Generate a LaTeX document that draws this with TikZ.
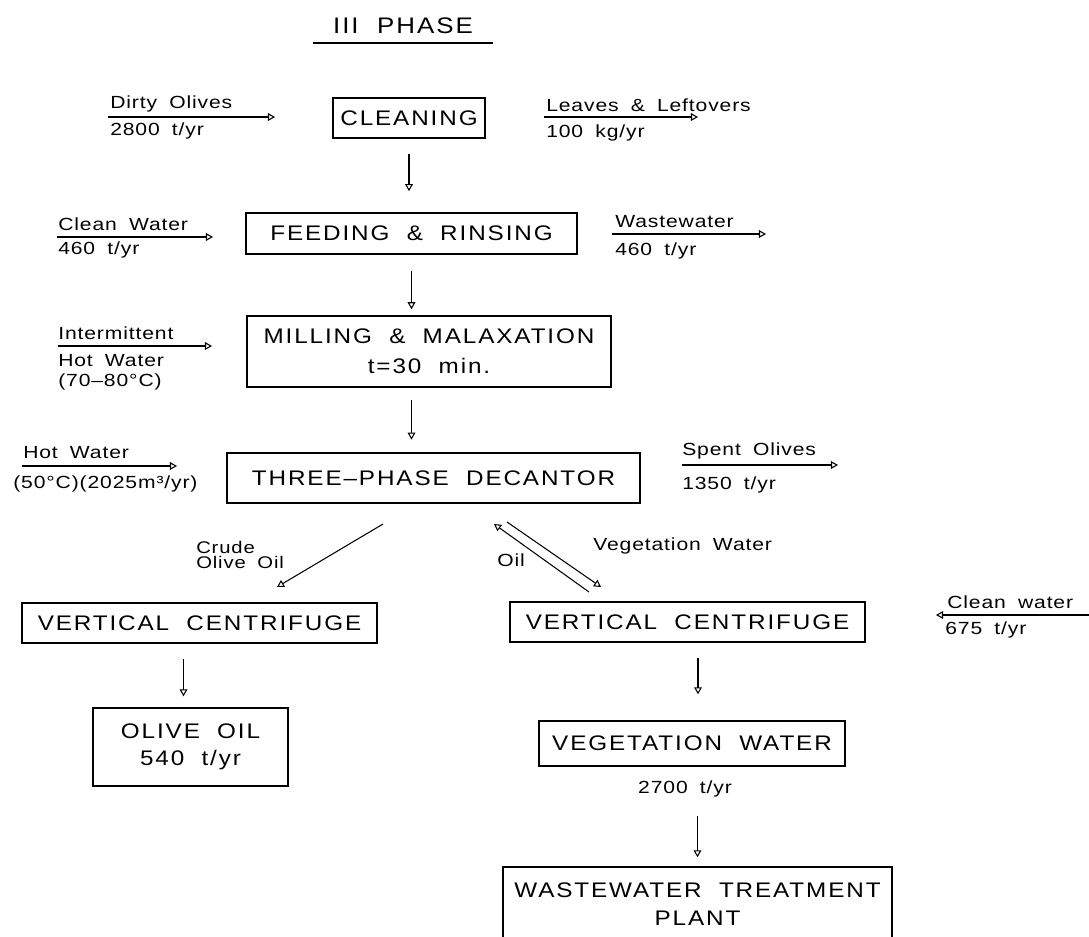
\documentclass[tikz,border=0pt]{standalone}
\usepackage{fontspec}
\setmainfont{Liberation Sans}
\newfontfamily\boxfont[FakeStretch=1.15,LetterSpace=9,WordSpace=2]{Liberation Sans}
\newfontfamily\lblfont[FakeStretch=1.2,LetterSpace=5,WordSpace=1.8]{Liberation Sans}
\usetikzlibrary{arrows.meta,calc}

\begin{document}
\begin{tikzpicture}[x=0.025cm, y=-0.025cm,
        proc/.style={draw, line width=1pt, inner sep=0pt, align=center,
            font=\boxfont\fontsize{15}{21}\selectfont},
        lbl/.style={inner sep=0pt, anchor=west, font=\lblfont\fontsize{12.5}{14}\selectfont},
        flow/.style={line width=0.75pt, -{Triangle[open,length=5pt,width=5.5pt]}}]
        \clip (0,0) rectangle (1089,937);

        % title
        \node[inner sep=0pt, font=\boxfont\fontsize{16}{16}\selectfont] (title) at (403,26) {III PHASE};
        \draw[line width=0.8pt] (313,43) -- (493,43);

        % process boxes
        \node[proc, minimum width=3.8cm, minimum height=1cm] (clean) at (409,118) {CLEANING};
        \node[proc, minimum width=8.275cm, minimum height=1.025cm] (feed) at (411.5,233.5) {FEEDING \& RINSING};
        \node[proc, minimum width=9.1cm, minimum height=1.775cm] (mill) at (429,351.5) {MILLING \& MALAXATION\\t=30 min.};
        \node[proc, minimum width=10.325cm, minimum height=1.25cm] (decant) at (433.5,478) {THREE–PHASE DECANTOR};
        \node[proc, minimum width=8.875cm, minimum height=1cm] (vcL) at (199.5,623) {VERTICAL CENTRIFUGE};
        \node[proc, minimum width=8.875cm, minimum height=1cm] (vcR) at (687.5,622) {VERTICAL CENTRIFUGE};
        \node[proc, minimum width=4.875cm, minimum height=1.95cm, font=\boxfont\fontsize{15}{19}\selectfont] (oil) at (190.5,747) {OLIVE OIL\\540 t/yr};
        \node[proc, minimum width=7.65cm, minimum height=1.125cm] (veg) at (692,743.5) {VEGETATION WATER};
        \node[proc, minimum width=9.725cm, minimum height=1.85cm, font=\boxfont\fontsize{15}{20}\selectfont] (wwtp) at (697.5,904) {WASTEWATER TREATMENT\\PLANT};

        % main line
        \draw[flow, shorten <=10.7pt, shorten >=15pt] (clean.south) -- (clean.south |- feed.north);
        \draw[flow, shorten <=11.4pt, shorten >=4.3pt] (feed.south) -- (feed.south |- mill.north);
        \draw[flow, shorten <=9pt, shorten >=9pt] (feed.south |- mill.south) -- (feed.south |- decant.north);
        \draw[flow, shorten <=10.7pt, shorten >=7.8pt] ($(vcL.south -| oil.north)+(-7,0)$) -- ($(oil.north)+(-7,0)$);
        \draw[flow, shorten <=10.7pt, shorten >=18.5pt] ($(vcR.south -| veg.north)+(6,0)$) -- ($(veg.north)+(6,0)$);

        % decantor outputs
        \coordinate (crudeA) at (383,524);
        \coordinate (crudeB) at (277,587);
        \coordinate (vegA) at (507,522);
        \coordinate (vegB) at (601,587);
        \coordinate (oilA) at (589,592);
        \coordinate (oilB) at (494,524);
        \draw[flow] (crudeA) -- (crudeB);
        \draw[flow] (vegA) -- (vegB);
        \draw[flow] (oilA) -- (oilB);
        \node[lbl, align=left, font=\lblfont\fontsize{12}{10.5}\selectfont] (crude) at (196,555) {Crude\\Olive Oil};
        \node[lbl] (oiltxt) at (497,560) {Oil};
        \node[lbl] (vegtxt) at (593,546) {Vegetation Water};

        % side streams
        \coordinate (dirtyA) at (108,117);
        \coordinate (dirtyB) at (275,117);
        \draw[flow] (dirtyA) -- (dirtyB);
        \node[lbl] (dirty) at (110,104) {Dirty Olives};
        \node[lbl] (dirtyq) at (110,131) {2800 t/yr};

        \coordinate (leafA) at (544,117);
        \coordinate (leafB) at (698,117);
        \draw[flow] (leafA) -- (leafB);
        \node[lbl] (leaf) at (546,105) {Leaves \& Leftovers};
        \node[lbl] (leafq) at (546,133) {100 kg/yr};

        \coordinate (cwA) at (57,237);
        \coordinate (cwB) at (213,237);
        \draw[flow] (cwA) -- (cwB);
        \node[lbl] (cw) at (58,224) {Clean Water};
        \node[lbl] (cwq) at (58,250) {460 t/yr};

        \coordinate (wwA) at (612,234);
        \coordinate (wwB) at (766,234);
        \draw[flow] (wwA) -- (wwB);
        \node[lbl] (ww) at (615,222) {Wastewater};
        \node[lbl] (wwq) at (615,251) {460 t/yr};

        \coordinate (ihA) at (58,346);
        \coordinate (ihB) at (212,346);
        \draw[flow] (ihA) -- (ihB);
        \node[lbl] (ih) at (58,333) {Intermittent};
        \node[lbl] (ih2) at (58,361) {Hot Water};
        \node[lbl] (ih3) at (58,382) {(70–80°C)};

        \coordinate (hwA) at (22,466);
        \coordinate (hwB) at (177,466);
        \draw[flow] (hwA) -- (hwB);
        \node[lbl] (hw) at (23,453) {Hot Water};
        \node[lbl] (hwq) at (13,484) {(50°C)(2025m³/yr)};

        \coordinate (spA) at (682,465);
        \coordinate (spB) at (838,465);
        \draw[flow] (spA) -- (spB);
        \node[lbl] (sp) at (682,451) {Spent Olives};
        \node[lbl] (spq) at (682,485) {1350 t/yr};

        \coordinate (cw2A) at (1095,615);
        \coordinate (cw2B) at (936,615);
        \draw[flow] (cw2A) -- (cw2B);
        \node[lbl] (cw2) at (947,602) {Clean water};
        \node[lbl] (cw2q) at (945,630) {675 t/yr};

        % to treatment
        \node[lbl, anchor=center] (vegq) at (685,789) {2700 t/yr};
        \draw[flow, shorten <=13pt, shorten >=6.4pt] (vegq.south -| wwtp.north) -- (wwtp.north);
    \end{tikzpicture}
\end{document}
